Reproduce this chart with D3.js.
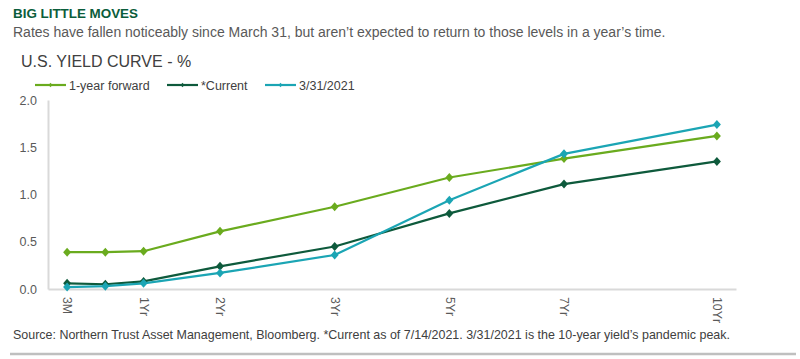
<!DOCTYPE html>
<html>
<head>
<meta charset="utf-8">
<script src="https://cdn.jsdelivr.net/npm/d3@7"></script>
<style>
  html, body { margin: 0; padding: 0; background: #fff; }
  svg { display: block; font-family: "Liberation Sans", Arial, sans-serif; }
</style>
</head>
<body>
<svg id="chart" width="800" height="359"></svg>
<script>
// ---- data ----
const slots = ["3M","6M","1Yr","s3","2Yr","s5","s6","3Yr","s8","s9","5Yr","s11","s12","7Yr","s14","s15","s16","10Yr"];
const tenors = ["3M","6M","1Yr","2Yr","3Yr","5Yr","7Yr","10Yr"];
const tickLabels = ["3M","1Yr","2Yr","3Yr","5Yr","7Yr","10Yr"];
const forward1y = [0.39, 0.39, 0.40, 0.61, 0.87, 1.18, 1.38, 1.62];
const current   = [0.06, 0.05, 0.08, 0.24, 0.45, 0.80, 1.11, 1.35];
const mar31     = [0.02, 0.03, 0.06, 0.17, 0.36, 0.94, 1.43, 1.74];
const seriesNames = ["1-year forward", "*Current", "3/31/2021"];
const yTicks = [0.0, 0.5, 1.0, 1.5, 2.0];

const colors = ["#6aab1e", "#0e5a3c", "#1ba5b4"];
const series = [forward1y, current, mar31].map((vals, i) => ({
  name: seriesNames[i], color: colors[i],
  points: tenors.map((t, j) => ({ t, v: vals[j] }))
}));

const svg = d3.select("#chart");

// ---- titles ----
svg.append("text").attr("x", 13).attr("y", 18)
  .attr("font-size", 13.4).attr("font-weight", "bold").attr("fill", "#0b5d3b")
  .text("BIG LITTLE MOVES");
svg.append("text").attr("x", 13).attr("y", 37)
  .attr("font-size", 14).attr("fill", "#595959")
  .text("Rates have fallen noticeably since March 31, but aren’t expected to return to those levels in a year’s time.");
svg.append("text").attr("x", 21).attr("y", 67)
  .attr("font-size", 16).attr("fill", "#404040")
  .text("U.S. YIELD CURVE  - %");

// ---- scales ----
const x = d3.scalePoint().domain(slots).range([48, 736]).padding(0.5);
const y = d3.scaleLinear().domain([0, 2]).range([289, 100]);

// ---- axes ----
const axisColor = "#d9d9d9";
const yAxis = svg.append("g").attr("transform", "translate(48,0)")
  .call(d3.axisLeft(y).tickValues(yTicks).tickFormat(d3.format(".1f")).tickSize(0).tickPadding(11));
yAxis.select(".domain").attr("stroke", axisColor).attr("stroke-width", 2);
yAxis.selectAll("text").attr("font-size", 12.5).attr("fill", "#595959")
  .attr("font-family", "Liberation Sans, Arial, sans-serif");

const xAxis = svg.append("g").attr("transform", "translate(0,289)")
  .call(d3.axisBottom(x).tickValues(tickLabels).tickSize(0).tickPadding(0));
xAxis.select(".domain").attr("stroke", axisColor).attr("stroke-width", 2);
xAxis.selectAll("text")
  .attr("font-size", 12.3).attr("fill", "#595959")
  .attr("font-family", "Liberation Sans, Arial, sans-serif")
  .attr("text-anchor", "start")
  .attr("transform", "translate(0,8) rotate(90)")
  .attr("x", 0).attr("y", 0).attr("dy", "0.35em");

// ---- lines ----
const diamond = {
  draw(ctx, size) {
    const w = Math.sqrt(size) * 0.6, h = Math.sqrt(size) * 0.68;
    ctx.moveTo(0, -h); ctx.lineTo(w, 0); ctx.lineTo(0, h); ctx.lineTo(-w, 0); ctx.closePath();
  }
};
const line = d3.line().x(d => x(d.t)).y(d => y(d.v));
series.forEach(s => {
  svg.append("path").datum(s.points)
    .attr("fill", "none").attr("stroke", s.color).attr("stroke-width", 2.2)
    .attr("stroke-linejoin", "round").attr("d", line);
  svg.append("g").selectAll("path").data(s.points).join("path")
    .attr("transform", d => `translate(${x(d.t)},${y(d.v)})`)
    .attr("d", d3.symbol(diamond, 44)())
    .attr("fill", s.color);
});

// ---- legend ----
const legendX = [35, 167, 265];
series.forEach((s, i) => {
  const g = svg.append("g").attr("transform", `translate(${legendX[i]},85)`);
  g.append("line").attr("x1", 0).attr("x2", 31).attr("y1", 0).attr("y2", 0)
    .attr("stroke", s.color).attr("stroke-width", 2.2);
  g.append("path").attr("transform", "translate(15.5,0)")
    .attr("d", d3.symbol(diamond, 10)()).attr("fill", s.color);
  g.append("text").attr("x", 34).attr("y", 0).attr("dy", "0.36em")
    .attr("font-size", 12.5).attr("fill", "#404040").text(s.name);
});

// ---- footer ----
svg.append("text").attr("x", 13).attr("y", 339)
  .attr("font-size", 12.4).attr("fill", "#404040")
  .attr("textLength", 717).attr("lengthAdjust", "spacingAndGlyphs")
  .text("Source: Northern Trust Asset Management, Bloomberg. *Current as of 7/14/2021. 3/31/2021 is the 10-year yield’s pandemic peak.");
svg.append("line").attr("x1", 10).attr("x2", 796).attr("y1", 354).attr("y2", 354)
  .attr("stroke", "#bfbfbf").attr("stroke-width", 2.5);
</script>
</body>
</html>
